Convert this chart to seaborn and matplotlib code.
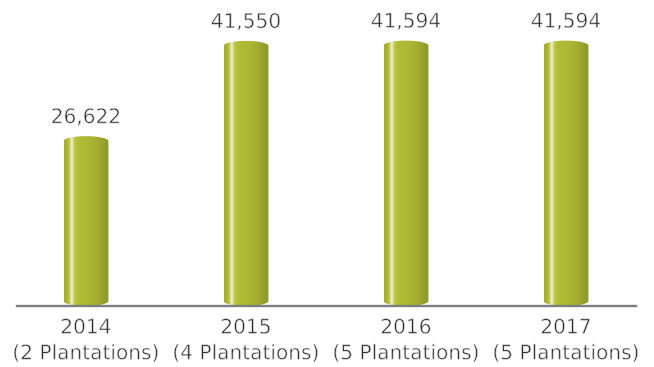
import numpy as np
import pandas as pd
import matplotlib
matplotlib.use("Agg")
import matplotlib.pyplot as plt
from matplotlib.colors import LinearSegmentedColormap
from matplotlib.path import Path
from matplotlib.patches import PathPatch
import matplotlib.patheffects as pe
import seaborn as sns

# Data
years = ["2014", "2015", "2016", "2017"]
plantations = ["(2 Plantations)", "(4 Plantations)", "(5 Plantations)", "(5 Plantations)"]
values = [26622, 41550, 41594, 41594]

df = pd.DataFrame({"label": [f"{y}\n{p}" for y, p in zip(years, plantations)],
                   "value": values})

sns.set_theme(style="white")
plt.rcParams["font.family"] = ["DejaVu Sans"]

W, H = 654, 367
fig = plt.figure(figsize=(W / 100, H / 100), dpi=100)
base_px = 306
ax = fig.add_axes([0, (H - base_px) / H, 1, base_px / H])

bar_w = 0.28
sns.barplot(data=df, x="label", y="value", width=bar_w, color="#b2bb34",
            ax=ax, saturation=1)

# 160 px between bar centres, first centre at x=86 px
unit_px = 160
x0 = -86 / unit_px
ax.set_xlim(x0, x0 + W / unit_px)
ymax = 47960
ax.set_ylim(0, ymax)
px_per_val = base_px / ymax

# Cylinder shading
cmap = LinearSegmentedColormap.from_list("cyl", [
    (0.00, "#a0aa2c"), (0.08, "#adb631"), (0.13, "#c8cf66"),
    (0.175, "#f3f5da"), (0.22, "#c5cc56"), (0.29, "#b4bd36"),
    (0.55, "#aeb734"), (0.78, "#a0ab30"), (1.00, "#8a952c")])
grad = np.linspace(0, 1, 256).reshape(1, -1)

ry = 5 / px_per_val  # vertical radius of the rounded ends
t = np.linspace(0, np.pi, 40)
for patch in ax.patches:
    bx, bw, bh = patch.get_x(), patch.get_width(), patch.get_height()
    xc = bx + bw / 2
    top_x = xc + (bw / 2) * np.cos(t)
    top_y = bh - ry + ry * np.sin(t)
    bot_x = xc - (bw / 2) * np.cos(t)
    bot_y = ry - ry * np.sin(t)
    verts = np.column_stack([np.concatenate([top_x, bot_x]),
                             np.concatenate([top_y, bot_y])])
    clip = PathPatch(Path(np.vstack([verts, verts[:1]]), closed=True),
                     transform=ax.transData, facecolor="none", edgecolor="none")
    ax.add_patch(clip)
    im = ax.imshow(grad, cmap=cmap, aspect="auto", extent=(bx, bx + bw, 0, bh),
                   interpolation="bilinear", zorder=2)
    im.set_clip_path(clip)
    patch.set_visible(False)

ax.set_xlim(x0, x0 + W / unit_px)
ax.set_ylim(0, ymax)

text_color = "#2b2b2b"
# thin the glyph strokes slightly with a white outline drawn on top
thin = [pe.Normal(), pe.Stroke(linewidth=0.5, foreground="white")]
for i, v in enumerate(values):
    ax.annotate(f"{v:,}", (i, v), xytext=(0, 6.5), textcoords="offset points",
                ha="center", va="bottom", fontsize=14.5, color=text_color,
                path_effects=thin)

ax.set_xlabel("")
ax.set_ylabel("")
ax.set_yticks([])
ax.tick_params(axis="x", length=0, pad=9, labelsize=14.5, labelcolor=text_color)
for lab in ax.get_xticklabels():
    lab.set_linespacing(1.45)
    lab.set_path_effects(thin)
for side in ["left", "right", "top"]:
    ax.spines[side].set_visible(False)
ax.spines["bottom"].set_color("#7d7d7d")
ax.spines["bottom"].set_linewidth(1.7)
ax.spines["bottom"].set_bounds((17 - 86) / unit_px, (636 - 86) / unit_px)
ax.set_facecolor("white")
fig.patch.set_facecolor("white")

fig.savefig("out.png", dpi=100, facecolor="white")
